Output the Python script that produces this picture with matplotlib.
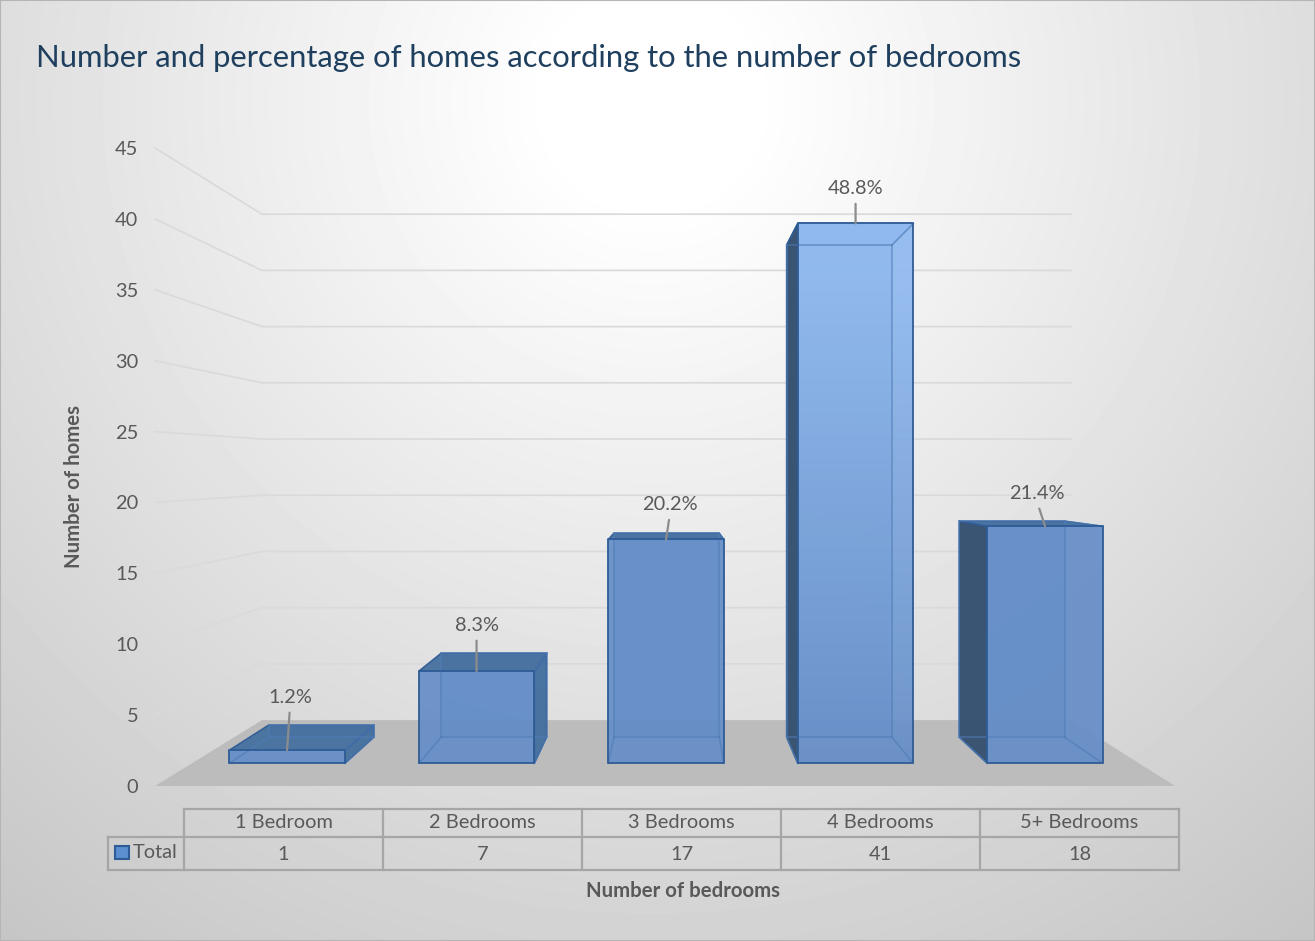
import numpy as np
import matplotlib
matplotlib.use("Agg")
import matplotlib.pyplot as plt
from matplotlib.patches import Polygon, Rectangle
from matplotlib.lines import Line2D
from matplotlib.colors import LinearSegmentedColormap

categories = ["1 Bedroom", "2 Bedrooms", "3 Bedrooms", "4 Bedrooms", "5+ Bedrooms"]
totals = [1, 7, 17, 41, 18]
percents = ["1.2%", "8.3%", "20.2%", "48.8%", "21.4%"]
y_ticks = [0, 5, 10, 15, 20, 25, 30, 35, 40, 45]
title = "Number and percentage of homes according to the number of bedrooms"
x_title = "Number of bedrooms"
y_title = "Number of homes"
series_name = "Total"

W, H = 1315, 941
plt.rcParams["font.family"] = ["Lato", "DejaVu Sans"]
fig = plt.figure(figsize=(W / 100, H / 100), dpi=100)
TXT = "#595959"
FS = 14.4


def fx(px):
    return px / W


def fy(py):
    return 1 - py / H


# background radial gradient
bg = fig.add_axes([0, 0, 1, 1], zorder=0)
yy, xx = np.mgrid[0:H:4, 0:W:4]
r = np.hypot(xx - 650, yy - 100)
v = 1 - 0.235 * np.clip((r - 100) / 1000, 0, 1)
bg.imshow(v, cmap="gray", vmin=0, vmax=1, extent=[0, W, H, 0], aspect="auto", interpolation="bilinear")
bg.axis("off")
fig.add_artist(Rectangle((0, 0), 1, 1, transform=fig.transFigure, fill=False, ec="#b5b5b5", lw=1.5))

# main axes: front plane of the 3-D box, categories on x, homes on y
ax = fig.add_axes([fx(155), fy(786), 1020 / W, 638 / H], zorder=1)
ax.patch.set_alpha(0)
XMIN, XMAX, YMIN, YMAX = 0, 5, 0, 45
for s in ax.spines.values():
    s.set_visible(False)

# perspective projection parameters (depth 0 = front, 1 = back wall)
XV, YV, PERSP = 2.534, 22.45, 0.261
Z_FRONT, Z_BACK = 0.293, 0.695
BAR_W = 0.61
BAR_CENTER = 0.503


def proj(x, y, z):
    s = 1 / (1 + PERSP * z)
    return (XV + (x - XV) * s, YV + (y - YV) * s)


# floor
ax.add_patch(Polygon([proj(XMIN, 0, 0), proj(XMAX, 0, 0), proj(XMAX, 0, 1), proj(XMIN, 0, 1)],
                     closed=True, fc="#bcbcbc", ec="none", zorder=1, clip_on=False))

# gridlines on side wall and back wall
for t in y_ticks[1:]:
    a, b, c = proj(XMIN, t, 0), proj(XMIN, t, 1), proj(XMAX, t, 1)
    ax.add_line(Line2D([a[0], b[0], c[0]], [a[1], b[1], c[1]], color="#dadada", lw=1.25,
                       zorder=1, clip_on=False))

EDGE = "#2f5c96"
INNER = "#4f7cb6"
cmap = LinearSegmentedColormap.from_list("bar", ["#6089c3", "#8fb9ef"])


def face(pts, fc, alpha=1.0, ec=EDGE, lw=1.2, z=3):
    p = Polygon(pts, closed=True, fc=fc, ec=ec, lw=lw, alpha=alpha, zorder=z, clip_on=False, joinstyle="round")
    ax.add_patch(p)
    return p


for i, val in enumerate(totals):
    x0, x1 = i + BAR_CENTER - BAR_W / 2, i + BAR_CENTER + BAR_W / 2
    fb = [proj(x0, 0, Z_FRONT), proj(x1, 0, Z_FRONT), proj(x1, val, Z_FRONT), proj(x0, val, Z_FRONT)]
    bb = [proj(x0, 0, Z_BACK), proj(x1, 0, Z_BACK), proj(x1, val, Z_BACK), proj(x0, val, Z_BACK)]
    left_side = [fb[0], fb[3], bb[3], bb[0]]
    right_side = [fb[1], fb[2], bb[2], bb[1]]
    top = [fb[3], fb[2], bb[2], bb[3]]
    seen_from_below = val > YV

    # top face: behind the side when seen from below
    top_color = "#8fb9ef" if seen_from_below else "#46709f"
    face(top, top_color, 0.95, EDGE, 1.1, 2.2 if seen_from_below else 2.5)
    # back + bottom faces, translucent so the floor edge shows through
    face(bb, "#6a94cc", 0.55, "none", 0, 2.0)
    # side faces
    if x0 > XV:
        face(left_side, "#36506f", 0.96, EDGE, 1.1, 2.3)
    elif x1 < XV:
        face(right_side, "#46709f", 0.96, EDGE, 1.1, 2.3)
    elif (x0 + x1) / 2 > XV:
        face(left_side, "#36506f", 0.96, EDGE, 1.1, 2.3)
    # front face with vertical gradient
    ys = np.linspace(0, 1, 128).reshape(-1, 1)
    grad = ys * max(0.0, val - 18) / 23 + 0.1
    xs = [p[0] for p in fb]
    clip = Polygon(fb, closed=True, transform=ax.transData, fc="none", ec="none")
    ax.add_patch(clip)
    im = ax.imshow(grad, cmap=cmap, vmin=0, vmax=1, origin="lower",
                   extent=[min(xs), max(xs), fb[0][1], fb[2][1]],
                   aspect="auto", alpha=0.92, zorder=2.6, interpolation="bilinear")
    im.set_clip_path(clip)
    # right / back edges seen through the translucent front
    for a, b in [(bb[0], bb[1]), (bb[1], bb[2]), (bb[2], bb[3]), (bb[3], bb[0]),
                 (fb[0], bb[0]), (fb[1], bb[1]), (fb[2], bb[2])]:
        ax.add_line(Line2D([a[0], b[0]], [a[1], b[1]], color=INNER, lw=1.1, alpha=0.65, zorder=2.7, clip_on=False))
    face(fb, "none", 1.0, EDGE, 1.3, 2.8)

ax.set_xlim(XMIN, XMAX)
ax.set_ylim(YMIN, YMAX)

# data labels with leader lines
label_offsets = [(3, 53), (0, 46), (4, 35), (0, 35), (-8, 33)]
for i, (val, pct) in enumerate(zip(totals, percents)):
    x, y = proj(i + BAR_CENTER, val, Z_FRONT)
    ox, oy = label_offsets[i]
    ax.annotate(pct, xy=(x, y), xycoords="data", xytext=(ox * 0.72, oy * 0.72), textcoords="offset points",
                ha="center", va="center", fontsize=FS, color=TXT, zorder=6,
                arrowprops=dict(arrowstyle="-", color="#8c8c8c", lw=1.6, shrinkA=3, shrinkB=0,
                                relpos=(0.5, 0)))

# ticks
ax.set_xticks([])
ax.set_yticks(y_ticks)
ax.tick_params(axis="y", length=0, pad=12, labelsize=FS, labelcolor=TXT)

# axis titles
ax.set_ylabel(y_title, fontsize=14.7, fontweight="bold", color=TXT)
ax.yaxis.set_label_coords((84 - 155) / 1020, (786 - 486) / 638)
ax.set_xlabel(x_title, fontsize=14.7, fontweight="bold", color=TXT)
ax.xaxis.set_label_coords((683 - 155) / 1020, (786 - 881) / 638)

# chart title
fig.text(fx(36), fy(58), title, fontsize=22.35, color="#1f3f5f", ha="left", va="center", zorder=5)

# data table
col_edges = np.linspace(184, 1179, len(categories) + 1)
row_y = [809, 837, 870]
GRID = "#a6a6a6"


def tline(xs, ys):
    fig.add_artist(Line2D([fx(a) for a in xs], [fy(b) for b in ys], color=GRID, lw=1.6,
                          transform=fig.transFigure, zorder=5))


tline([col_edges[0], col_edges[-1]], [row_y[0], row_y[0]])
tline([108, col_edges[-1]], [row_y[1], row_y[1]])
tline([108, col_edges[-1]], [row_y[2], row_y[2]])
tline([108, 108], [row_y[1], row_y[2]])
for e in col_edges:
    tline([e, e], [row_y[0], row_y[2]])
for i, (c, val) in enumerate(zip(categories, totals)):
    xc = (col_edges[i] + col_edges[i + 1]) / 2
    fig.text(fx(xc), fy(823), c, ha="center", va="center", fontsize=FS, color=TXT, zorder=6)
    fig.text(fx(xc), fy(854), str(val), ha="center", va="center", fontsize=FS, color=TXT, zorder=6)
fig.text(fx(133), fy(853), series_name, ha="left", va="center", fontsize=FS, color=TXT, zorder=6)
fig.add_artist(Rectangle((fx(115), fy(859)), 14 / W, 13 / H, transform=fig.transFigure,
                         fc="#5b8fcf", ec=EDGE, lw=1.5, zorder=6))

fig.savefig("out.png", dpi=100)
